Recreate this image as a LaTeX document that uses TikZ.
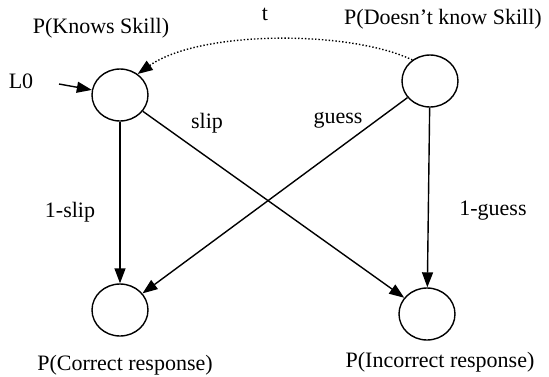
\documentclass[tikz,border=0pt]{standalone}
\usepackage{fontspec}
\setmainfont{Liberation Serif}
\usetikzlibrary{shapes.geometric,arrows.meta}
\begin{document}
\begin{tikzpicture}[x=1pt,y=-1pt,
  state/.style={ellipse,draw,line width=1.4pt,minimum width=56pt,minimum height=52pt,inner sep=0pt},
  lbl/.style={font=\fontsize{22}{26}\selectfont,inner sep=0pt,anchor=base},
  edge/.style={line width=1.4pt,-{Triangle[length=15pt,width=11pt]}}]
\useasboundingbox (0,0) rectangle (549,376);
\fill[white] (0,0) rectangle (549,376);
\node[state] (K) at (120,95) {};
\node[state] (D) at (430,81) {};
\node[state] (C) at (120,310) {};
\node[state] (I) at (427,314) {};
\node[lbl] (tK) at (101,33) {P(Knows Skill)};
\node[lbl] (tD) at (443,24) {P(Doesn’t know Skill)};
\node[lbl] (tC) at (125,370) {P(Correct response)};
\node[lbl] (tI) at (440,367) {P(Incorrect response)};
\node[lbl] (lt) at (265,20) {t};
\node[lbl] (lL) at (21,88) {L0};
\node[lbl] (ls) at (207,128) {slip};
\node[lbl] (lg) at (338,123) {guess};
\node[lbl] (l1s) at (70,217) {1-slip};
\node[lbl] (l1g) at (493,215) {1-guess};
\coordinate (L0s) at (59,84);
\draw[edge] (L0s) -- (K);
\draw[edge] (K) -- (C);
\draw[edge] (K) -- (I);
\draw[edge] (D) -- (C);
\draw[edge] (D) -- (I);
\draw[line width=1.4pt,dotted,-{Triangle[length=15pt,width=11pt]}] (D.130) .. controls (350,30) and (200,30) .. (K.50);
\end{tikzpicture}
\end{document}
